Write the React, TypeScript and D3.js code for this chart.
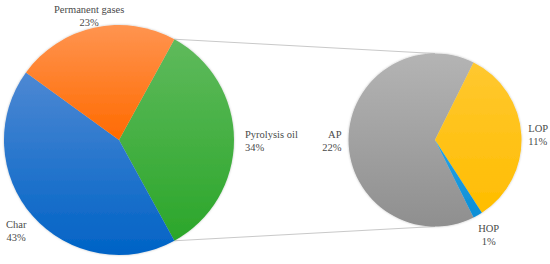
import { useEffect, useRef } from 'react'
import * as d3 from 'd3'

// main pie: product yields (%)
const mainLabels = ['Pyrolysis oil', 'Char', 'Permanent gases']
const mainValues = [34, 43, 23]
// split of pyrolysis oil (% of total)
const subLabels = ['AP', 'LOP', 'HOP']
const subValues = [22, 11.4, 0.6]

const mainColors = [
  ['#5fba5c', '#2ba62a'],
  ['#4d88d3', '#0063c6'],
  ['#ff9450', '#ff6a00'],
]
const subColors = [
  ['#b4b4b4', '#8f8f8f'],
  ['#ffc830', '#ffbd00'],
  ['#2aa3e3', '#0a8ed6'],
]

const width = 550
const height = 264

export default function App() {
  const svgRef = useRef<SVGSVGElement>(null)

  useEffect(() => {
    if (!svgRef.current) return
    const svg = d3.select(svgRef.current)
    svg.selectAll('*').remove()

    const defs = svg.append('defs')
    const shadow = defs.append('filter').attr('id', 'shadow')
      .attr('x', '-10%').attr('y', '-10%').attr('width', '120%').attr('height', '120%')
    shadow.append('feDropShadow')
      .attr('dx', 0).attr('dy', 0).attr('stdDeviation', 1.2)
      .attr('flood-color', '#000').attr('flood-opacity', 0.25)

    const addGrad = (id: string, c: string[]) => {
      const g = defs.append('linearGradient').attr('id', id)
        .attr('x1', 0).attr('y1', 0).attr('x2', 0).attr('y2', 1)
      g.append('stop').attr('offset', '0%').attr('stop-color', c[0])
      g.append('stop').attr('offset', '100%').attr('stop-color', c[1])
    }
    mainColors.forEach((c, i) => addGrad(`gm${i}`, c))
    subColors.forEach((c, i) => addGrad(`gs${i}`, c))

    const fmt = d3.format('.0%')
    const pt = (cx: number, cy: number, r: number, a: number) =>
      [cx + r * Math.sin(a), cy - r * Math.cos(a)]

    // main pie, oil slice centred on the right
    const m = { cx: 119, cy: 140, r: 115 }
    const total = d3.sum(mainValues)
    const oilSpan = (mainValues[0] / total) * 2 * Math.PI
    const mainStart = Math.PI / 2 - oilSpan / 2
    const mainArcs = d3.pie<number>().sort(null)
      .startAngle(mainStart).endAngle(mainStart + 2 * Math.PI)(mainValues)

    // sub pie, AP centred on the left
    const s = { cx: 435, cy: 140, r: 86.5 }
    const subTotal = d3.sum(subValues)
    const apSpan = (subValues[0] / subTotal) * 2 * Math.PI
    const subStart = (3 * Math.PI) / 2 - apSpan / 2
    const subArcs = d3.pie<number>().sort(null)
      .startAngle(subStart).endAngle(subStart + 2 * Math.PI)(subValues)

    // connector lines
    const oil = mainArcs[0]
    const p1 = pt(m.cx, m.cy, m.r, oil.startAngle)
    const p2 = pt(m.cx, m.cy, m.r, oil.endAngle)
    const conn = [
      [p1, [s.cx, s.cy - s.r]],
      [p2, [s.cx, s.cy + s.r]],
    ]
    svg.append('g').selectAll('line').data(conn).join('line')
      .attr('x1', d => d[0][0]).attr('y1', d => d[0][1])
      .attr('x2', d => d[1][0]).attr('y2', d => d[1][1])
      .attr('stroke', '#c9c9c9').attr('stroke-width', 1)

    const drawPie = (
      arcs: d3.PieArcDatum<number>[],
      c: { cx: number; cy: number; r: number },
      prefix: string,
      labels: string[],
      pctBase: number,
      hOff: number,
    ) => {
      const arc = d3.arc<d3.PieArcDatum<number>>().innerRadius(0).outerRadius(c.r)
      const g = svg.append('g').attr('transform', `translate(${c.cx},${c.cy})`)
      g.append('g').attr('filter', 'url(#shadow)')
        .selectAll('path').data(arcs).join('path')
        .attr('d', arc)
        .attr('fill', (_, i) => `url(#${prefix}${i})`)

      const lab = svg.append('g')
        .style('font-family', '"Liberation Serif", "DejaVu Serif", serif')
        .style('font-size', '10.5px')
        .attr('fill', '#4a4a4a')
      arcs.forEach((d, i) => {
        const mid = (d.startAngle + d.endAngle) / 2
        const sn = Math.sin(mid)
        let anchor = 'middle'
        let p: number[]
        if (Math.abs(sn) > 0.9) {
          anchor = sn > 0 ? 'start' : 'end'
          p = pt(c.cx, c.cy, c.r + hOff, mid)
        } else {
          p = pt(c.cx, c.cy, c.r + 22, mid)
        }
        const y = Math.max(p[1], 15.5)
        const t = lab.append('text').attr('text-anchor', anchor)
        t.append('tspan').attr('x', p[0]).attr('y', y - 2.5).text(labels[i])
        t.append('tspan').attr('x', p[0]).attr('y', y + 10.5).text(fmt(d.data / pctBase))
      })
    }

    drawPie(mainArcs, m, 'gm', mainLabels, total, 11)
    drawPie(subArcs, s, 'gs', subLabels, total, 7)
  }, [])

  return (
    <svg
      ref={svgRef}
      width={width}
      height={height}
      style={{ position: 'absolute', left: 0, top: 0, background: '#fff' }}
    />
  )
}
